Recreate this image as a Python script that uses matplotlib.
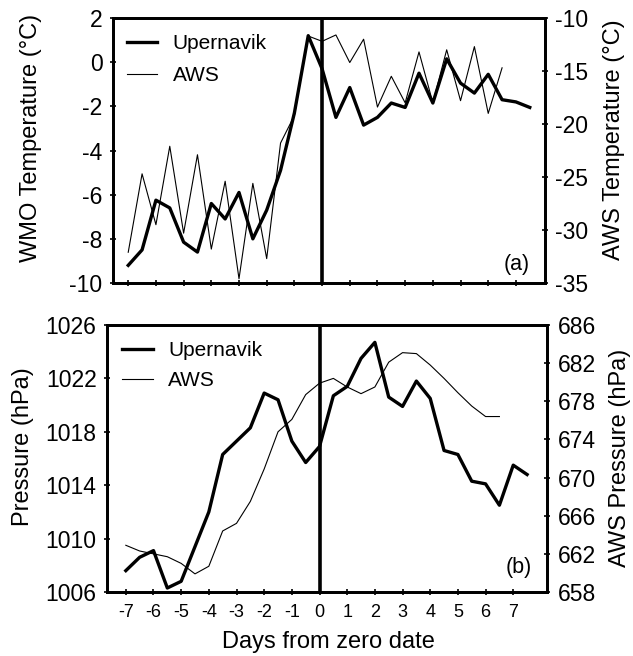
import matplotlib
matplotlib.use("Agg")
import matplotlib.pyplot as plt

plt.rcParams['font.family'] = ['Liberation Sans', 'DejaVu Sans']
plt.rcParams['axes.unicode_minus'] = False

# time axis (days from zero date), half-day steps
days_wmo = [-7, -6.5, -6, -5.5, -5, -4.5, -4, -3.5, -3, -2.5, -2, -1.5, -1, -0.5,
            0, 0.5, 1, 1.5, 2, 2.5, 3, 3.5, 4, 4.5, 5, 5.5, 6, 6.5, 7, 7.5]
days_aws = [-7, -6.5, -6, -5.5, -5, -4.5, -4, -3.5, -3, -2.5, -2, -1.5, -1, -0.5,
            0, 0.5, 1, 1.5, 2, 2.5, 3, 3.5, 4, 4.5, 5, 5.5, 6, 6.5]

# (a) temperature
temp_upernavik = [-9.2, -8.5, -6.25, -6.6, -8.15, -8.6, -6.4, -7.1, -5.9, -8.0,
                  -6.7, -4.9, -2.3, 1.2, -0.3, -2.5, -1.15, -2.85, -2.5, -1.85,
                  -2.05, -0.5, -1.85, 0.15, -0.95, -1.4, -0.55, -1.7, -1.8, -2.05]
temp_aws = [-32.1, -24.7, -29.5, -22.1, -30.3, -22.9, -31.8, -25.4, -34.6, -25.6,
            -32.7, -21.8, -19.2, -11.7, -12.2, -11.6, -14.2, -12.0, -18.4, -15.5,
            -18.0, -13.2, -18.0, -13.0, -17.8, -12.7, -19.0, -14.7]

# (b) pressure
pres_upernavik = [1007.6, 1008.6, 1009.1, 1006.3, 1006.8, 1009.4, 1012.0, 1016.3,
                  1017.3, 1018.3, 1020.9, 1020.4, 1017.3, 1015.7, 1016.9, 1020.7,
                  1021.4, 1023.5, 1024.7, 1020.6, 1019.9, 1021.8, 1020.5, 1016.6,
                  1016.3, 1014.3, 1014.1, 1012.5, 1015.5, 1014.8]
pres_aws = [662.9, 662.3, 662.0, 661.7, 661.0, 659.9, 660.7, 664.4, 665.2, 667.5,
            670.9, 674.8, 676.1, 678.7, 679.9, 680.4, 679.5, 678.8, 679.5, 682.1,
            683.1, 683.0, 681.8, 680.4, 678.9, 677.5, 676.4, 676.4]

day_ticks = [-7, -6, -5, -4, -3, -2, -1, 0, 1, 2, 3, 4, 5, 6, 7]

W, H = 633, 656
fig = plt.figure(figsize=(6.33, 6.56), dpi=100, facecolor='w')

def px(l, t, r, b):
    return [l / W, 1 - b / H, (r - l) / W, (b - t) / H]

ax1 = fig.add_axes(px(113, 18, 545, 283))
ax2 = fig.add_axes(px(107, 325, 547, 592))

def style(ax):
    for s in ax.spines.values():
        s.set_linewidth(2.0)
    ax.tick_params(direction='inout', length=5, width=1.2, labelsize=16.5, pad=5)

# ---- panel (a)
l1, = ax1.plot(days_wmo, temp_upernavik, color='k', lw=2.4, label='Upernavik')
ax1b = ax1.twinx()
l2, = ax1b.plot(days_aws, temp_aws, color='k', lw=0.8, label='AWS')
ax1.axvline(0, color='k', lw=2.6)
ax1.set_xlim(-7.55, 8.05)
ax1.set_ylim(-10, 2)
ax1.set_yticks([2, 0, -2, -4, -6, -8, -10])
ax1b.set_ylim(-35, -10)
ax1b.set_yticks([-10, -15, -20, -25, -30, -35])
ax1.set_xticks(day_ticks)
ax1.set_xticklabels([])
for a in (ax1, ax1b):
    style(a)
ax1.legend(handles=[l1, l2], loc='upper left', bbox_to_anchor=(0.032, 0.94),
           frameon=False, fontsize=15, handlelength=1.45, handletextpad=0.75,
           labelspacing=0.65, borderpad=0, borderaxespad=0)
ax1.text(0.965, 0.07, '(a)', transform=ax1.transAxes, ha='right', va='center', fontsize=15.5)

# ---- panel (b)
l3, = ax2.plot(days_wmo, pres_upernavik, color='k', lw=2.4, label='Upernavik')
ax2b = ax2.twinx()
l4, = ax2b.plot(days_aws, pres_aws, color='k', lw=0.8, label='AWS')
ax2.axvline(0, color='k', lw=2.6)
ax2.set_xlim(-7.68, 8.22)
ax2.set_ylim(1006, 1026)
ax2.set_yticks([1006, 1010, 1014, 1018, 1022, 1026])
ax2b.set_ylim(658, 686)
ax2b.set_yticks([658, 662, 666, 670, 674, 678, 682, 686])
ax2.set_xticks(day_ticks)
for a in (ax2, ax2b):
    style(a)
ax2.tick_params(axis='x', labelsize=13, pad=6)
ax2.legend(handles=[l3, l4], loc='upper left', bbox_to_anchor=(0.035, 0.94),
           frameon=False, fontsize=15, handlelength=1.45, handletextpad=0.75,
           labelspacing=0.55, borderpad=0, borderaxespad=0)
ax2.text(0.965, 0.09, '(b)', transform=ax2.transAxes, ha='right', va='center', fontsize=15.5)

# axis titles
fig.text(31 / W, 1 - 138 / H, 'WMO Temperature (°C)', rotation=90, ha='center', va='center', fontsize=17)
fig.text(614 / W, 1 - 140 / H, 'AWS Temperature (°C)', rotation=90, ha='center', va='center', fontsize=17)
fig.text(23 / W, 1 - 447 / H, 'Pressure (hPa)', rotation=90, ha='center', va='center', fontsize=17)
fig.text(620 / W, 1 - 458 / H, 'AWS Pressure (hPa)', rotation=90, ha='center', va='center', fontsize=17)
fig.text(328 / W, 1 - 648 / H, 'Days from zero date', ha='center', va='baseline', fontsize=17)

plt.savefig('out.png', dpi=100)
